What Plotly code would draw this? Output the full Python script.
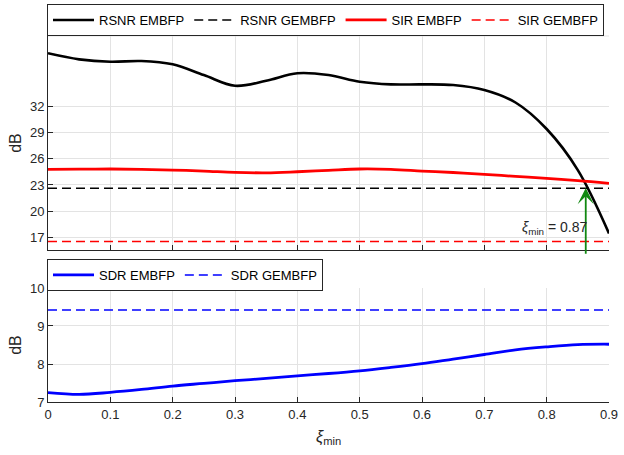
import plotly.graph_objects as go

xi = [0, 0.05, 0.1, 0.15, 0.2, 0.25, 0.3, 0.35, 0.4, 0.45,
      0.5, 0.55, 0.6, 0.65, 0.7, 0.75, 0.8, 0.85, 0.9]
rsnr_embfp = [38.01, 37.32, 37.05, 37.13, 36.75, 35.53, 34.31, 34.88, 35.73, 35.53,
              34.77, 34.47, 34.47, 34.39, 33.82, 32.4, 29.38, 24.7, 17.48]
sir_embfp = [24.78, 24.8, 24.82, 24.78, 24.70, 24.59, 24.44, 24.39, 24.51, 24.67,
             24.82, 24.78, 24.59, 24.42, 24.21, 23.98, 23.76, 23.5, 23.19]
sdr_embfp = [7.246, 7.20, 7.254, 7.33, 7.42, 7.49, 7.56, 7.62, 7.69, 7.75,
             7.82, 7.91, 8.01, 8.13, 8.25, 8.37, 8.45, 8.51, 8.52]
rsnr_gembfp = 22.62
sir_gembfp = 16.55
sdr_gembfp = 9.42
xi_min = 0.8627
xi_min_label = "0.87"
arrow_tip_db = 22.65

x_ticks = [0, 0.1, 0.2, 0.3, 0.4, 0.5, 0.6, 0.7, 0.8, 0.9]
x_ticklabels = ["0", "0.1", "0.2", "0.3", "0.4", "0.5", "0.6", "0.7", "0.8", "0.9"]
y1_ticks = [17, 20, 23, 26, 29, 32]
y2_ticks = [7, 8, 9, 10]

AX = "#262626"
GRID = "#e3e3e3"
FONT = "Liberation Sans, Arial, sans-serif"

fig = go.Figure()
x_ends = [x_ticks[0], x_ticks[-1]]

fig.add_trace(go.Scatter(x=xi, y=rsnr_embfp, mode="lines", name="RSNR EMBFP",
                         line=dict(color="black", width=2.6, shape="spline"),
                         xaxis="x", yaxis="y", legend="legend"))
fig.add_trace(go.Scatter(x=x_ends, y=[rsnr_gembfp] * 2, mode="lines", name="RSNR GEMBFP",
                         line=dict(color="black", width=1.5, dash="9px,5px"),
                         xaxis="x", yaxis="y", legend="legend"))
fig.add_trace(go.Scatter(x=xi, y=sir_embfp, mode="lines", name="SIR EMBFP",
                         line=dict(color="#ff0000", width=2.8, shape="spline"),
                         xaxis="x", yaxis="y", legend="legend"))
fig.add_trace(go.Scatter(x=x_ends, y=[sir_gembfp] * 2, mode="lines", name="SIR GEMBFP",
                         line=dict(color="#ff0000", width=1.5, dash="9px,5px"),
                         xaxis="x", yaxis="y", legend="legend"))
fig.add_trace(go.Scatter(x=xi, y=sdr_embfp, mode="lines", name="SDR EMBFP",
                         line=dict(color="#0000ff", width=2.8, shape="spline"),
                         xaxis="x2", yaxis="y2", legend="legend2"))
fig.add_trace(go.Scatter(x=x_ends, y=[sdr_gembfp] * 2, mode="lines", name="SDR GEMBFP",
                         line=dict(color="#0000ff", width=1.5, dash="9px,5px"),
                         xaxis="x2", yaxis="y2", legend="legend2"))

common_x = dict(range=[0, 0.9], tickvals=x_ticks, ticktext=x_ticklabels,
                ticks="inside", ticklen=5, tickcolor=AX, showline=True, linecolor=AX,
                linewidth=1, showgrid=True, gridcolor=GRID, gridwidth=1, zeroline=False,
                tickfont=dict(family=FONT, size=13, color=AX))
common_y = dict(ticks="inside", ticklen=5, tickcolor=AX, showline=True, linecolor=AX,
                linewidth=1, showgrid=True, gridcolor=GRID, gridwidth=1, zeroline=False,
                tickfont=dict(family=FONT, size=13, color=AX))

legend_common = dict(orientation="h", xref="container", yref="container",
                     xanchor="left", yanchor="top",
                     bgcolor="white", bordercolor=AX, borderwidth=1, itemwidth=41,
                     font=dict(family=FONT, size=13, color="black"), tracegroupgap=0)

fig.update_layout(
    width=624, height=455,
    margin=dict(l=48, r=15, t=36, b=53, autoexpand=False),
    paper_bgcolor="white", plot_bgcolor="white",
    font=dict(family=FONT, size=13, color=AX),
    xaxis=dict(domain=[0, 1], anchor="y", showticklabels=False, **common_x),
    yaxis=dict(domain=[0.4153, 1], anchor="x", range=[15.59, 39.98], tickvals=y1_ticks,
               title=dict(text="dB", font=dict(family=FONT, size=16, color=AX), standoff=4),
               **common_y),
    xaxis2=dict(domain=[0, 1], anchor="y2", matches="x", **common_x),
    yaxis2=dict(domain=[0, 0.3115], anchor="x2", range=[7, 10], tickvals=y2_ticks,
                title=dict(text="dB", font=dict(family=FONT, size=16, color=AX), standoff=4),
                **common_y),
    legend=dict(x=47 / 624, y=1 - 4 / 455, **legend_common),
    legend2=dict(x=47 / 624, y=1 - 259 / 455, **legend_common),
    showlegend=True,
)

# x-axis label of the lower panel
fig.add_annotation(x=0.5, y=(402 - 437) / 366, xref="paper", yref="paper",
                   xanchor="center", yanchor="middle", showarrow=False,
                   text="<i>ξ</i><sub>min</sub>", font=dict(family=FONT, size=16, color=AX))

# light top edge of the upper axes
fig.add_shape(type="line", xref="x domain", yref="y domain", x0=0, x1=1, y0=1, y1=1,
              line=dict(color=GRID, width=1), layer="below")

# xi_min arrow and label
fig.add_annotation(x=xi_min, y=arrow_tip_db, xref="x", yref="y",
                   ax=xi_min, ay=15.0, axref="x", ayref="y",
                   showarrow=True, arrowhead=3, arrowsize=1.5, arrowwidth=1.8,
                   arrowcolor="#118811", text="")
fig.add_annotation(x=0.868, y=18.15, xref="x", yref="y", xanchor="right", yanchor="middle",
                   showarrow=False, text="<i>ξ</i><sub>min</sub> = " + xi_min_label,
                   font=dict(family=FONT, size=14, color=AX))

fig.write_html("out.html", config={"displayModeBar": False},
               post_script="document.body.style.margin='0';")
